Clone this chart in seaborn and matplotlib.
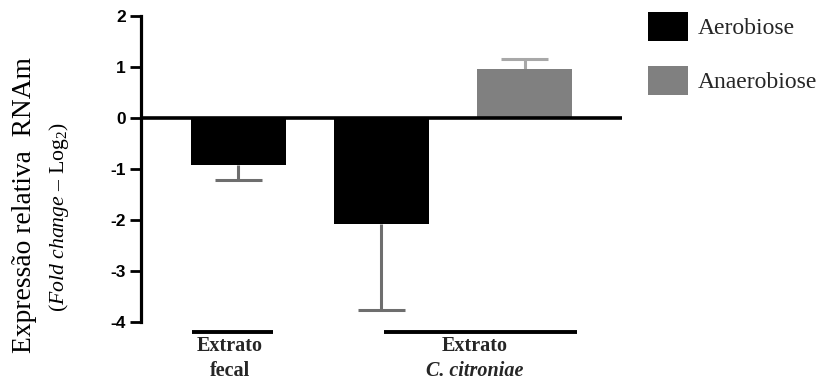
import matplotlib
matplotlib.use("Agg")
import matplotlib.pyplot as plt
import matplotlib.transforms as mtransforms
import seaborn as sns
import pandas as pd

# ---- data ----
bar_ids = ["fecal_aero", "citro_aero", "citro_anaero"]
conditions = ["Aerobiose", "Aerobiose", "Anaerobiose"]
means = [-0.92, -2.08, 0.96]
errors = [0.30, 1.68, 0.20]
group_titles = ["Extrato", "Extrato"]
group_names = ["fecal", "C. citroniae"]
yticks = [2, 1, 0, -1, -2, -3, -4]

df = pd.DataFrame({"bar": bar_ids, "condition": conditions, "value": means})

sns.set_theme(style="white")
plt.rcParams["mathtext.fontset"] = "custom"
plt.rcParams["mathtext.rm"] = "Liberation Serif"
plt.rcParams["mathtext.it"] = "Liberation Serif:italic"

fig = plt.figure(figsize=(8.2, 3.81), dpi=100)
ax = fig.add_axes([141 / 820, 1 - 322 / 381, (622 - 141) / 820, (322 - 16) / 381])

palette = {"Aerobiose": "#000000", "Anaerobiose": "#808080"}
sns.barplot(data=df, x="bar", y="value", hue="condition", palette=palette,
            dodge=False, width=0.665, errorbar=None, ax=ax, edgecolor="none",
            zorder=3)

# one-sided error bars
err_colors = ["#6e6e6e", "#6e6e6e", "#a8a8a8"]
for i, (m, e) in enumerate(zip(means, errors)):
    tip = m - e if m < 0 else m + e
    ax.vlines(i, m, tip, color=err_colors[i], lw=2.2, zorder=2)
    ax.hlines(tip, i - 0.165, i + 0.165, color=err_colors[i], lw=2.2, zorder=2)

ax.axhline(0, color="black", lw=2.6, zorder=4)

ax.set_xlim(-0.68, 2.68)
ax.set_ylim(-4, 2)
ax.set_yticks(yticks)
ax.set_yticklabels([str(t) for t in yticks], fontfamily="Liberation Sans",
                   fontweight="bold", fontsize=12.5)
ax.tick_params(axis="y", direction="out", length=8, width=2, pad=3, left=True,
               color="black", labelcolor="black")
ax.set_xticks([])
ax.set_xlabel("")
ax.set_ylabel("")
for s in ["top", "right", "bottom"]:
    ax.spines[s].set_visible(False)
ax.spines["left"].set_linewidth(2.3)
ax.spines["left"].set_color("black")

# y label (two lines)
fig.text(25 / 820, 1 - 205 / 381, "Expressão relativa  RNAm", rotation=90,
         ha="center", va="center", fontfamily="Liberation Serif", fontsize=19.8,
         color="black")
fig.text(59 / 820, 1 - 217 / 381, r"($\mathit{Fold\ change}$ – Log$_2$)",
         rotation=90, ha="center", va="center", fontfamily="Liberation Serif",
         fontsize=15.7, color="black")

# group annotations below axis
trans = mtransforms.blended_transform_factory(ax.transData, ax.transAxes)
line_spans = [(-0.325, 0.241), (1.017, 2.367)]
text_x = [-0.06, 1.65]
for (x0, x1), tx, title, name, italic in zip(line_spans, text_x, group_titles,
                                              group_names, [False, True]):
    ax.plot([x0, x1], [-0.033, -0.033], transform=trans, color="black", lw=2.8,
            clip_on=False, solid_capstyle="butt")
    ax.text(tx, -0.077, title, transform=trans, ha="center", va="center",
            fontfamily="Liberation Serif", fontweight="bold", fontsize=14.5)
    ax.text(tx, -0.16, name, transform=trans, ha="center", va="center",
            fontfamily="Liberation Serif", fontweight="bold", fontsize=14.5,
            fontstyle="italic" if italic else "normal")

# legend
fs_px = 17 * 100 / 72
sns.move_legend(ax, loc="upper left", bbox_to_anchor=(636 / 820, 1 - 0 / 381),
                bbox_transform=fig.transFigure, frameon=False, title=None,
                prop={"family": "Liberation Serif", "size": 17},
                handlelength=40 / fs_px, handleheight=36 / fs_px,
                handletextpad=10 / fs_px, labelspacing=25 / fs_px, borderpad=0)

fig.savefig("out.png", dpi=100)
